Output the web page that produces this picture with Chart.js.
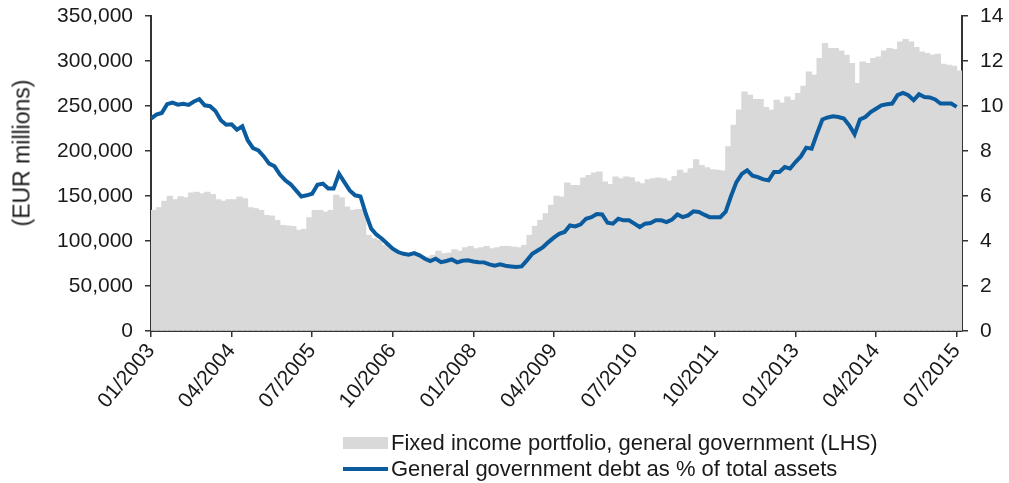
<!DOCTYPE html>
<html>
<head>
<meta charset="utf-8">
<script src="https://cdn.jsdelivr.net/npm/chart.js@4.4.1/dist/chart.umd.min.js"></script>
<style>
  body { margin: 0; background: #fff; font-family: "Liberation Sans", Arial, sans-serif; color: #1a1a1a; }
  #wrap { position: relative; width: 1009px; height: 483px; }
  #wrap canvas { position: absolute; left: 0; top: 0; }
  #ytitle { position: absolute; left: 22px; top: 153px; transform: translate(-50%, -50%) rotate(-90deg); font-size: 23px; white-space: nowrap; }
  .lg { position: absolute; left: 343px; font-size: 22px; white-space: nowrap; display: flex; align-items: center; }
  .sw { width: 45px; margin-right: 3px; }
</style>
</head>
<body>
<div id="wrap">
  <canvas id="myChart" width="1009" height="483"></canvas>
  <div id="ytitle">(EUR millions)</div>
  <div class="lg" style="top:430px"><span class="sw" style="height:12px;background:#d9d9d9"></span>Fixed income portfolio, general government (LHS)</div>
  <div class="lg" style="top:456px"><span class="sw" style="height:4px;background:#0b5c9e"></span>General government debt as % of total assets</div>
</div>
<script>
// monthly, 01/2003 - 07/2015
var startYear = 2003;
var tickLabels = ['01/2003', '04/2004', '07/2005', '10/2006', '01/2008', '04/2009',
  '07/2010', '10/2011', '01/2013', '04/2014', '07/2015'];

// Fixed income portfolio, general government (EUR millions, LHS)
var portfolio = [
  134000, 137000, 144300, 149600, 145900, 149200, 148100, 153200, 154300, 152600,
  154300, 151800, 145900, 144300, 145900, 145900, 148800, 147000, 137000, 135900,
  134000, 128400, 127700, 122900, 117300, 116600, 116000, 111800, 112900, 125900,
  134000, 134000, 132100, 134000, 150700, 148100, 137700, 134000, 135000, 135000,
  106200, 102500, 100600, 95100, 92500, 89500, 87600, 85800, 84000, 84500,
  82100, 82100, 84000, 88700, 85800, 86500, 90300, 88700, 92500, 94000,
  91400, 92500, 94000, 91400, 92500, 94000, 94000, 93200, 92500, 95100,
  106200, 116200, 122900, 130300, 139600, 149600, 148800, 164400, 161800, 161800,
  169900, 172900, 175500, 176600, 165500, 162900, 171000, 169200, 171000, 170300,
  165500, 163700, 168100, 169200, 169900, 169200, 166600, 171800, 178500, 175500,
  180400, 190400, 184000, 181500, 179300, 178500, 177700, 204800, 228500, 245600,
  265600, 261900, 257100, 257100, 248200, 245200, 256300, 253300, 260000, 256300,
  263800, 271900, 287800, 284100, 302700, 319400, 313800, 314000, 311100, 306400,
  297100, 274900, 298900, 297100, 302700, 304500, 311100, 313800, 312700, 321100,
  323800, 321100, 314900, 310000, 308200, 306400, 307400, 296300, 295200, 294100,
  288900
];

// General government debt as % of total assets (RHS)
var debtShare = [
  9.44, 9.62, 9.69, 10.08, 10.15, 10.06, 10.10, 10.05, 10.20, 10.30,
  10.03, 9.99, 9.78, 9.37, 9.17, 9.19, 8.95, 9.10, 8.48, 8.13,
  8.03, 7.76, 7.44, 7.32, 6.95, 6.70, 6.52, 6.25, 5.98, 6.03,
  6.10, 6.50, 6.55, 6.33, 6.33, 6.99, 6.62, 6.25, 6.03, 5.98,
  5.21, 4.55, 4.28, 4.10, 3.88, 3.66, 3.51, 3.43, 3.39, 3.46,
  3.36, 3.21, 3.11, 3.21, 3.06, 3.11, 3.18, 3.05, 3.12, 3.14,
  3.09, 3.06, 3.05, 2.96, 2.90, 2.96, 2.90, 2.87, 2.84, 2.87,
  3.14, 3.43, 3.58, 3.73, 3.95, 4.15, 4.32, 4.40, 4.69, 4.65,
  4.74, 4.99, 5.06, 5.20, 5.18, 4.81, 4.77, 4.99, 4.92, 4.92,
  4.77, 4.62, 4.77, 4.80, 4.92, 4.92, 4.84, 4.95, 5.18, 5.06,
  5.14, 5.32, 5.29, 5.17, 5.06, 5.06, 5.06, 5.30, 6.00, 6.62,
  6.98, 7.14, 6.90, 6.84, 6.74, 6.70, 7.07, 7.07, 7.29, 7.22,
  7.51, 7.76, 8.15, 8.10, 8.77, 9.40, 9.49, 9.54, 9.51, 9.44,
  9.14, 8.74, 9.40, 9.51, 9.73, 9.88, 10.03, 10.08, 10.11, 10.48,
  10.58, 10.48, 10.26, 10.52, 10.40, 10.38, 10.29, 10.11, 10.11, 10.11,
  9.96
];

var months = [];
for (let i = 0; i < portfolio.length; i++) {
  var m = i % 12 + 1;
  months.push((m < 10 ? '0' + m : '' + m) + '/' + (startYear + Math.floor(i / 12)));
}

var barPts = [], linePts = [];
for (let i = 0; i < months.length; i++) {
  barPts.push({ x: i + 0.5, y: portfolio[i] });
  linePts.push({ x: i, y: debtShare[i] });
}

var font = { family: '"Liberation Sans", Arial, sans-serif', size: 21 };
var axisCol = '#333333';

// keep the plot box where the reference has it
function fitY(w) {
  return function(s) { s.width = w; s.paddingTop = 0; s.paddingBottom = 0; };
}

var ctx = document.getElementById('myChart').getContext('2d');
var myChart = new Chart(ctx, {
  type: 'bar',
  data: {
    datasets: [{
      type: 'line',
      label: 'General government debt as % of total assets',
      data: linePts,
      yAxisID: 'y1',
      borderColor: '#0b5c9e',
      borderWidth: 4,
      pointRadius: 0,
      tension: 0,
      order: 0
    }, {
      label: 'Fixed income portfolio, general government (LHS)',
      data: barPts,
      yAxisID: 'y',
      backgroundColor: '#d9d9d9',
      borderWidth: 0,
      inflateAmount: 0.5,
      barPercentage: 1,
      categoryPercentage: 1,
      order: 1
    }]
  },
  options: {
    responsive: false,
    animation: false,
    layout: { padding: { top: 16, right: 0, left: 0, bottom: 0 } },
    plugins: { legend: { display: false }, tooltip: { enabled: false } },
    scales: {
      x: {
        type: 'linear',
        min: 0,
        max: months.length,
        offset: false,
        afterBuildTicks: function(s) {
          s.ticks = tickLabels.map(function(t, k) { return { value: k * 15 }; });
        },
        afterFit: function(s) { s.height = 152; s.paddingLeft = 0; s.paddingRight = 0; },
        grid: { display: true, drawOnChartArea: false, offset: false, tickLength: 6, color: axisCol, lineWidth: 1.5 },
        border: { display: true, color: axisCol, width: 2 },
        ticks: {
          autoSkip: false,
          minRotation: 50,
          maxRotation: 50,
          padding: 2,
          color: '#1a1a1a',
          font: font,
          callback: function(v) { return tickLabels[Math.round(v / 15)]; }
        }
      },
      y: {
        position: 'left',
        min: 0,
        max: 350000,
        afterFit: fitY(151),
        grid: { display: true, drawOnChartArea: false, tickLength: 6, color: axisCol, lineWidth: 1.5 },
        border: { display: true, color: axisCol, width: 2 },
        ticks: {
          stepSize: 50000,
          padding: 12,
          color: '#1a1a1a',
          font: font,
          callback: function(v) { return v.toLocaleString('en-US'); }
        }
      },
      y1: {
        position: 'right',
        min: 0,
        max: 14,
        afterFit: fitY(47),
        grid: { display: true, drawOnChartArea: false, tickLength: 6, color: axisCol, lineWidth: 1.5 },
        border: { display: true, color: axisCol, width: 2 },
        ticks: { stepSize: 2, padding: 12, color: '#1a1a1a', font: font }
      }
    }
  }
});
</script>
</body>
</html>
